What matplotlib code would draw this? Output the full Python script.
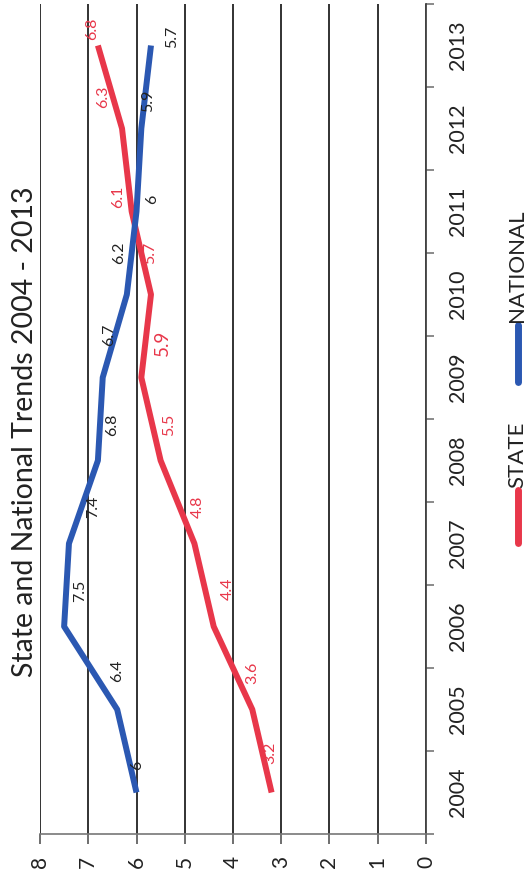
import numpy as np
import matplotlib.pyplot as plt
from matplotlib.lines import Line2D

plt.rcParams['font.family'] = ['Lato', 'DejaVu Sans']

# data
years = ['2004', '2005', '2006', '2007', '2008', '2009', '2010', '2011', '2012', '2013']
state = [3.2, 3.6, 4.4, 4.8, 5.5, 5.9, 5.7, 6.1, 6.3, 6.8]
national = [6, 6.4, 7.5, 7.4, 6.8, 6.7, 6.2, 6, 5.9, 5.7]
value_ticks = [0, 1, 2, 3, 4, 5, 6, 7, 8]

# where each data label sits relative to its point (pixels: sideways, along the years)
state_dx = [-1, 0, 14, 3, 8, 21, -1, -14, -19, -6]
state_dy = [28, 25, 26, 26, 25, 22, 31, 4, 21, 5]
national_dx = [1, 0, 16, 24, 14, 6, -8, 16, 7, 21]
national_dy = [23, 27, 24, 26, 24, 31, 31, 7, 16, -3]

red = '#e8374a'
blue = '#2b58b2'

W, H = 529, 882
fig = plt.figure(figsize=(W / 100, H / 100), dpi=100)
# chart is drawn turned on its side: values run right->left, years bottom->top
ax = fig.add_axes([40 / W, 48 / H, 386 / W, 830 / H])

pos = np.arange(len(years))
ax.plot(state, pos, color=red, lw=4.3, solid_capstyle='butt', zorder=3)
ax.plot(national, pos, color=blue, lw=4.3, solid_capstyle='butt', zorder=3)

# data labels
for i, v in enumerate(state):
    fs = 13.5 if years[i] == '2009' else 11.5
    ax.annotate(str(v), (v, pos[i]), xytext=(state_dx[i], state_dy[i]), textcoords='offset pixels',
                rotation=90, ha='center', va='bottom', fontsize=fs, color=red, zorder=4,
                annotation_clip=False)
for i, v in enumerate(national):
    ax.annotate(str(v), (v, pos[i]), xytext=(national_dx[i], national_dy[i]), textcoords='offset pixels',
                rotation=90, ha='center', va='bottom', fontsize=11.5, color='#222222', zorder=4,
                annotation_clip=False)

ax.set_xlim(8, 0)
ax.set_ylim(-0.5, len(years) - 0.5)

ax.set_xticks(value_ticks)
ax.set_xticklabels([str(t) for t in value_ticks], rotation=90, fontsize=15, color='#222222')
ax.tick_params(axis='x', direction='out', length=7, width=1.2, color='#555555', pad=9)
ax.grid(axis='x', color='#222222', lw=1.3, zorder=1)

ax.yaxis.tick_right()
ax.set_yticks(pos)
ax.set_yticklabels(years, rotation=90, va='center', fontsize=15.5, color='#222222')
ax.set_yticks(np.arange(-0.5, len(years)), minor=True)
ax.tick_params(axis='y', which='major', length=0, pad=16)
ax.tick_params(axis='y', which='minor', length=6, width=1.2, color='#777777', right=True, left=False)

for s in ['top', 'left']:
    ax.spines[s].set_visible(False)
ax.spines['bottom'].set_color('#777777')
ax.spines['bottom'].set_linewidth(1.2)
ax.spines['right'].set_color('#444444')
ax.spines['right'].set_linewidth(1.3)

fig.text(25 / W, 1 - 432 / H, 'State and National Trends 2004 - 2013', rotation=90,
         ha='center', va='center', fontsize=20.5, color='#222222')

# legend drawn sideways
fig.add_artist(Line2D([518 / W, 518 / W], [1 - 543 / H, 1 - 490 / H], color=red, lw=5,
                      solid_capstyle='round', transform=fig.transFigure))
fig.text(517 / W, 1 - 488 / H, 'STATE', rotation=90, ha='center', va='bottom',
         fontsize=16, color='#222222')
fig.add_artist(Line2D([518 / W, 518 / W], [1 - 382 / H, 1 - 325 / H], color=blue, lw=5,
                      solid_capstyle='round', transform=fig.transFigure))
fig.text(517 / W, 1 - 322 / H, 'NATIONAL', rotation=90, ha='center', va='bottom',
         fontsize=16, color='#222222')

fig.savefig('out.png', dpi=100, facecolor='white')
